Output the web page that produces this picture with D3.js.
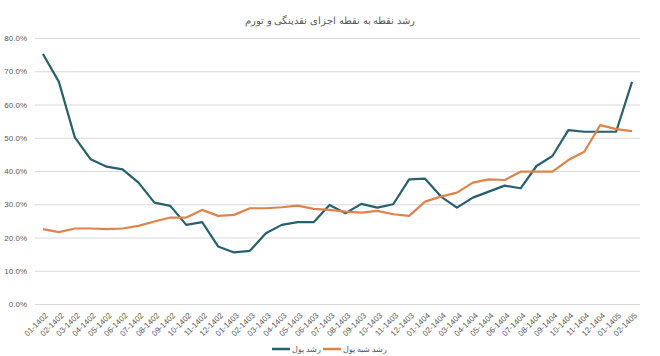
<!DOCTYPE html>
<html>
<head>
<meta charset="utf-8">
<script src="https://cdn.jsdelivr.net/npm/d3@7"></script>
<style>
  body{margin:0;background:#fff;}
  text{font-family:"Liberation Sans",Arial,sans-serif;}
</style>
</head>
<body>
<div id="chart"></div>
<script>
const months = ["01-1402","02-1402","03-1402","04-1402","05-1402","06-1402","07-1402","08-1402","09-1402","10-1402","11-1402","12-1402",
  "01-1403","02-1403","03-1403","04-1403","05-1403","06-1403","07-1403","08-1403","09-1403","10-1403","11-1403","12-1403",
  "01-1404","02-1404","03-1404","04-1404","05-1404","06-1404","07-1404","08-1404","09-1404","10-1404","11-1404","12-1404",
  "01-1405","02-1405"]
// رشد پول
const moneyGrowth = [75.2,66.8,50.1,43.5,41.3,40.5,36.5,30.5,29.5,23.8,24.6,17.3,
  15.5,16.0,21.3,23.8,24.6,24.6,29.8,27.3,30.1,29.0,30.0,37.5,
  37.7,32.3,29.0,32.0,33.8,35.6,34.8,41.5,44.5,52.3,51.8,51.8,
  51.8,66.8]
// رشد شبه پول
const quasiGrowth = [22.5,21.6,22.7,22.7,22.5,22.7,23.5,24.8,26.0,26.0,28.3,26.5,
  26.8,28.8,28.8,29.1,29.6,28.6,28.3,27.8,27.5,28.0,27.0,26.5,
  30.8,32.3,33.5,36.5,37.5,37.3,39.8,39.8,39.8,43.3,45.8,53.8,
  52.6,52.0]
const yTicks = [0,10,20,30,40,50,60,70,80]
const title = "رشد نقطه به نقطه اجزای نقدینگی و تورم"
const seriesNames = ["رشد پول","رشد شبه پول"]

const width = 660, height = 356,
      margin = {top:38, left:35, right:20, bottom:52}
const innerW = width - margin.left - margin.right,
      innerH = height - margin.top - margin.bottom
const colors = ["#27606e","#e0834a"]

const svg = d3.select("#chart").append("svg")
  .attr("width",width).attr("height",height)
  .style("background","#fff")

const g = svg.append("g").attr("transform",`translate(${margin.left},${margin.top})`)

const x = d3.scalePoint().domain(months).range([0,innerW]).padding(0.5)
const y = d3.scaleLinear().domain([0,80]).range([innerH,0])

const yAxis = d3.axisLeft(y).tickValues(yTicks).tickSize(-innerW).tickPadding(8)
  .tickFormat(d=>d.toFixed(1)+"%")
const yGroup = g.append("g").call(yAxis)
yGroup.select(".domain").remove()
yGroup.selectAll(".tick line").attr("stroke","#d9d9d9")
yGroup.selectAll(".tick text").attr("fill","#595959").style("font-size","8px")

const xAxis = d3.axisBottom(x).tickSize(0).tickPadding(0)
const xGroup = g.append("g").attr("transform",`translate(0,${innerH})`).call(xAxis)
xGroup.select(".domain").remove()
xGroup.selectAll(".tick text")
  .attr("fill","#595959").style("font-size","8px")
  .attr("text-anchor","end")
  .attr("x",0).attr("y",0).attr("dx",0).attr("dy","0.35em")
  .attr("transform","translate(3,10) rotate(-45)")

const line = d3.line().x((d,i)=>x(months[i])).y(d=>y(d))
;[moneyGrowth,quasiGrowth].forEach((s,k)=>{
  g.append("path").datum(s)
    .attr("fill","none")
    .attr("stroke",colors[k])
    .attr("stroke-width",2.2)
    .attr("stroke-linejoin","round")
    .attr("d",line)
})

svg.append("text").attr("x",width/2).attr("y",24)
  .attr("text-anchor","middle").attr("fill","#595959")
  .style("font-size","10px").text(title)

// legend
const legend = svg.append("g").attr("transform",`translate(272,349)`)
const lx = [0,51]
seriesNames.forEach((n,k)=>{
  const lg = legend.append("g").attr("transform",`translate(${lx[k]},0)`)
  lg.append("line").attr("x1",0).attr("x2",18).attr("y1",0).attr("y2",0)
    .attr("stroke",colors[k]).attr("stroke-width",2.5)
  lg.append("text").attr("x",20).attr("y",3).attr("fill","#595959")
    .style("font-size","8px").text(n)
})
</script>
</body>
</html>
